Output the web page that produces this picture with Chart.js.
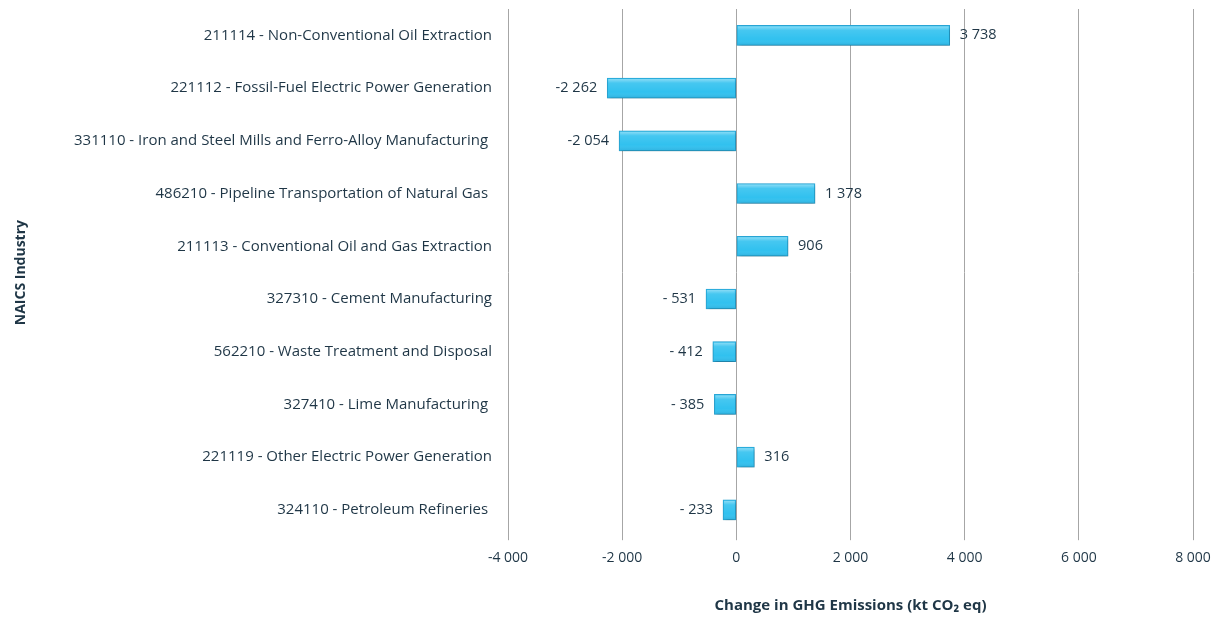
<!DOCTYPE html>
<html>
<head>
<meta charset="utf-8">
<script src="https://cdn.jsdelivr.net/npm/chart.js@4/dist/chart.umd.min.js"></script>
<style>
  html, body { margin: 0; padding: 0; background: #fff; }
  #wrap { width: 1220px; height: 617px; }
</style>
</head>
<body>
<div id="wrap"><canvas id="ghgChart"></canvas></div>
<script>
const industries = [
    '211114 - Non-Conventional Oil Extraction',
    '221112 - Fossil-Fuel Electric Power Generation',
    '331110 - Iron and Steel Mills and Ferro-Alloy Manufacturing ',
    '486210 - Pipeline Transportation of Natural Gas ',
    '211113 - Conventional Oil and Gas Extraction',
    '327310 - Cement Manufacturing',
    '562210 - Waste Treatment and Disposal',
    '327410 - Lime Manufacturing ',
    '221119 - Other Electric Power Generation',
    '324110 - Petroleum Refineries '
]
const changes = [3738, -2262, -2054, 1378, 906, -531, -412, -385, 316, -233]
const xTicks = [-4000, -2000, 0, 2000, 4000, 6000, 8000]

const textColor = '#1f3646'
const fontFamily = "'Open Sans', sans-serif"

// Excel style "# ##0" number format
function fmt(v) {
    const a = Math.abs(v)
    let s = a >= 1000 ? Math.floor(a / 1000) + ' ' + String(a % 1000).padStart(3, '0') : String(a)
    if (v < 0) s = (a >= 1000 ? '-' : '- ') + s
    return s
}

// value labels next to bar ends
const valueLabels = {
    id: 'valueLabels',
    afterDatasetsDraw(chart) {
        const ctx = chart.ctx
        const meta = chart.getDatasetMeta(0)
        ctx.save()
        ctx.font = '14.5px ' + fontFamily
        ctx.fillStyle = textColor
        ctx.textBaseline = 'middle'
        meta.data.forEach((bar, i) => {
            const v = changes[i]
            if (v >= 0) {
                ctx.textAlign = 'left'
                ctx.fillText(fmt(v), bar.x + 10, bar.y)
            } else {
                ctx.textAlign = 'right'
                ctx.fillText(fmt(v), bar.x - 10, bar.y)
            }
        })
        ctx.restore()
    }
}

// soft shadow + glossy highlight on bars
const barGloss = {
    id: 'barGloss',
    beforeDatasetDraw(chart) {
        const ctx = chart.ctx
        ctx.save()
        ctx.shadowColor = 'rgba(0,0,0,0.3)'
        ctx.shadowBlur = 4
        ctx.shadowOffsetX = 1
        ctx.shadowOffsetY = 2
    },
    afterDatasetDraw(chart) {
        const ctx = chart.ctx
        ctx.restore()
        const meta = chart.getDatasetMeta(0)
        ctx.save()
        meta.data.forEach(bar => {
            const left = Math.min(bar.x, bar.base)
            const w = Math.abs(bar.x - bar.base)
            const top = bar.y - bar.height / 2
            const g = ctx.createLinearGradient(0, top, 0, top + bar.height)
            g.addColorStop(0, 'rgba(255,255,255,0.5)')
            g.addColorStop(0.25, 'rgba(255,255,255,0.1)')
            g.addColorStop(0.7, 'rgba(255,255,255,0)')
            g.addColorStop(1, 'rgba(0,60,110,0.15)')
            ctx.fillStyle = g
            ctx.fillRect(left + 1, top + 1, w - 2, bar.height - 2)
        })
        ctx.restore()
    }
}

new Chart(document.getElementById('ghgChart'), {
    type: 'bar',
    data: {
        labels: industries,
        datasets: [{
            data: changes,
            backgroundColor: '#31c1ef',
            borderColor: '#2aaadb',
            borderWidth: 1,
            borderSkipped: false,
            barThickness: 20
        }]
    },
    options: {
        indexAxis: 'y',
        responsive: true,
        maintainAspectRatio: false,
        animation: false,
        layout: { padding: { top: 6, right: 27, bottom: 2, left: 0 } },
        plugins: {
            legend: { display: false },
            tooltip: { enabled: false }
        },
        scales: {
            x: {
                min: -4000,
                max: 8000,
                afterBuildTicks: scale => { scale.ticks = xTicks.map(v => ({ value: v })) },
                grid: { color: '#a6a6a6', lineWidth: 1, tickLength: 4, drawTicks: true },
                border: { display: false },
                ticks: {
                    color: textColor,
                    font: { family: fontFamily, size: 14 },
                    padding: 9,
                    maxRotation: 0,
                    callback: v => fmt(v)
                },
                title: {
                    display: true,
                    text: 'Change in GHG Emissions (kt CO\u2082 eq)',
                    color: textColor,
                    font: { family: fontFamily, size: 15, weight: 'bold' },
                    padding: { top: 22, bottom: 0 }
                }
            },
            y: {
                afterFit: scale => { scale.width = 508 },
                grid: { color: 'rgba(0,0,0,0)', drawOnChartArea: false, drawTicks: true, tickLength: 16 },
                border: { display: false },
                ticks: {
                    color: textColor,
                    font: { family: fontFamily, size: 15 },
                    padding: 0
                },
                title: {
                    display: true,
                    text: 'NAICS Industry',
                    color: textColor,
                    font: { family: fontFamily, size: 14, weight: 'bold' },
                    padding: { top: 13, bottom: 0 }
                }
            }
        }
    },
    plugins: [barGloss, valueLabels]
})
</script>
</body>
</html>
